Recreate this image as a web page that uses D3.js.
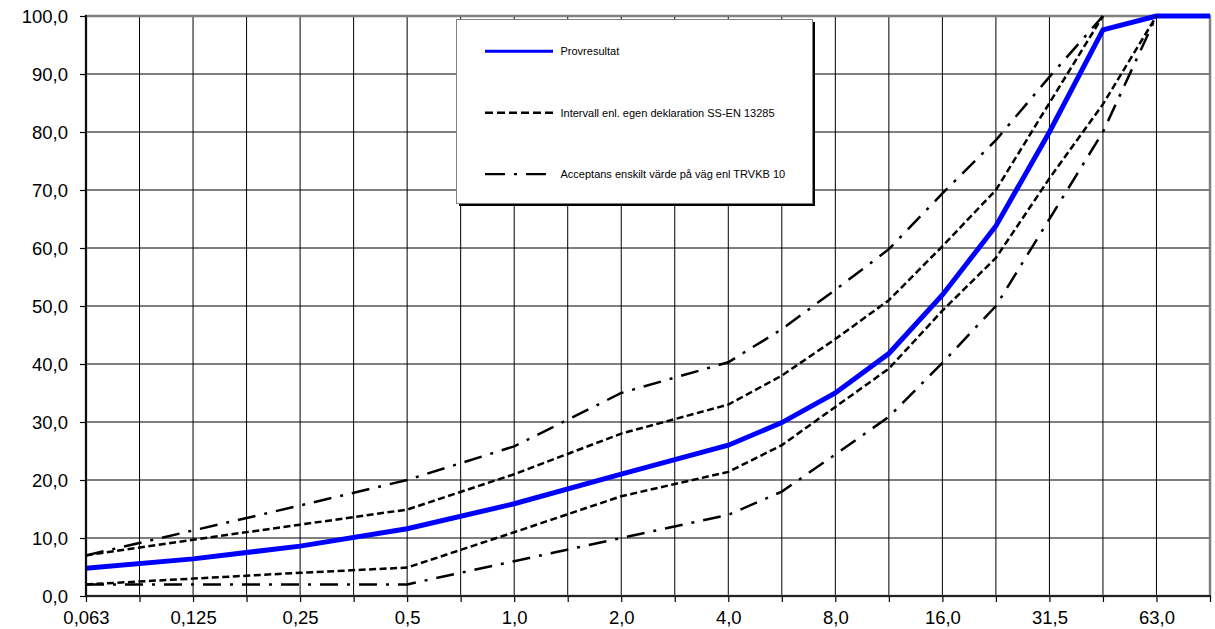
<!DOCTYPE html>
<html>
<head>
<meta charset="utf-8">
<script src="https://cdn.jsdelivr.net/npm/d3@7"></script>
<style>
  html, body { margin: 0; padding: 0; background: #fff; }
  svg { display: block; }
  text { font-family: "Liberation Sans", Arial, sans-serif; }
</style>
</head>
<body>
<div id="chart"></div>
<script>
// sieve sizes (mm) on the x axis, equally spaced
const sieves = ['0,063', '0,09', '0,125', '0,18', '0,25', '0,355', '0,5', '0,71', '1,0', '1,4', '2,0',
  '2,8', '4,0', '5,6', '8,0', '11,2', '16,0', '22,4', '31,5', '45,0', '63,0', '90,0'];
const tickLabels = ['0,063', '', '0,125', '', '0,25', '', '0,5', '', '1,0', '', '2,0',
  '', '4,0', '', '8,0', '', '16,0', '', '31,5', '', '63,0', ''];
const yTicks = [0, 10, 20, 30, 40, 50, 60, 70, 80, 90, 100];

// passing % per sieve, null = no value at that sieve
const provresultat = [4.8, null, 6.4, null, 8.6, null, 11.6, null, 15.9, null, 21.0,
  null, 26.0, 29.9, 35.0, 41.8, 51.9, 63.8, 80.0, 97.6, 100, 100];
const intervallOver = [7.0, null, 9.7, null, 12.3, null, 14.9, null, 21.0, null, 28.0,
  null, 33.0, 38.0, 44.3, 51.0, 60.3, 70.0, 85.0, 100, null, null];
const intervallUnder = [2.0, null, 3.0, null, 4.0, null, 4.9, null, 11.0, null, 17.2,
  null, 21.4, 26.0, 32.6, 39.2, 49.2, 58.3, 72.0, 84.8, 100, null];
const acceptansOver = [7.0, null, 11.3, null, 15.6, null, 20.0, null, 25.8, null, 35.0,
  null, 40.3, 46.0, 52.8, 59.8, 69.4, 78.6, 89.5, 100, null, null];
const acceptansUnder = [2.0, null, 2.0, null, 2.0, null, 2.0, null, 6.0, null, 10.0,
  null, 14.0, 18.0, 24.4, 30.9, 40.2, 50.0, 65.0, 80.0, 100, null];

const legendNames = ['Provresultat', 'Intervall enl. egen deklaration SS-EN 13285', 'Acceptans enskilt värde på väg enl TRVKB 10'];

const width = 1215;
const height = 629;
const plotLeft = 86, plotRight = 1210, plotTop = 16, plotBottom = 596;

const styles = {
  blue: { stroke: '#0000ff', width: 5, dash: null },
  dash: { stroke: '#000', width: 2.5, dash: '7,3.5' },
  dashdot: { stroke: '#000', width: 2.5, dash: '18,9,3,9' }
};

const series = [
  { values: provresultat, style: styles.blue },
  { values: intervallOver, style: styles.dash },
  { values: intervallUnder, style: styles.dash },
  { values: acceptansOver, style: styles.dashdot },
  { values: acceptansUnder, style: styles.dashdot }
];

const x = d3.scalePoint().domain(sieves).range([plotLeft, plotRight]);
const y = d3.scaleLinear().domain([0, 100]).range([plotBottom, plotTop]);

const svg = d3.create('svg')
  .attr('width', width)
  .attr('height', height);

// gridlines
svg.append('g')
  .selectAll('line')
  .data(yTicks.slice(1, -1))
  .join('line')
  .attr('x1', plotLeft).attr('x2', plotRight)
  .attr('y1', d => y(d)).attr('y2', d => y(d))
  .attr('stroke', '#000').attr('stroke-width', 1);

svg.append('g')
  .selectAll('line')
  .data(sieves.slice(1, -1))
  .join('line')
  .attr('x1', d => x(d)).attr('x2', d => x(d))
  .attr('y1', plotTop).attr('y2', plotBottom)
  .attr('stroke', '#000').attr('stroke-width', 1);

// plot area border
svg.append('rect')
  .attr('x', plotLeft).attr('y', plotTop)
  .attr('width', plotRight - plotLeft).attr('height', plotBottom - plotTop)
  .attr('fill', 'none')
  .attr('stroke', '#808080')
  .attr('stroke-width', 2.5);

// series
const line = d3.line()
  .x(d => x(d.sieve))
  .y(d => y(d.value));

series.forEach(s => {
  const pts = sieves.map((sv, i) => ({ sieve: sv, value: s.values[i] })).filter(d => d.value !== null);
  svg.append('path')
    .attr('d', line(pts))
    .attr('fill', 'none')
    .attr('stroke', s.style.stroke)
    .attr('stroke-width', s.style.width)
    .attr('stroke-linejoin', 'miter')
    .attr('stroke-dasharray', s.style.dash);
});

// axes
const fmt = d => d3.format('.1f')(d).replace('.', ',');

const yAxis = svg.append('g')
  .attr('transform', `translate(${plotLeft},0)`)
  .call(d3.axisLeft(y).tickValues(yTicks).tickFormat(fmt).tickSize(6).tickPadding(12));
yAxis.select('.domain').remove();
yAxis.selectAll('text').attr('dy', '0.36em');

const xAxis = svg.append('g')
  .attr('transform', `translate(0,${plotBottom})`)
  .call(d3.axisBottom(x).tickFormat((d, i) => tickLabels[i]).tickSize(6));
xAxis.select('.domain').remove();
xAxis.selectAll('text').attr('y', 27.5).attr('dy', 0);

svg.selectAll('.tick line').attr('stroke', '#000').attr('stroke-width', 1.2);
svg.selectAll('.tick text')
  .attr('fill', '#000')
  .style('font-size', '18.5px')
  .style('font-family', '"Liberation Sans", Arial, sans-serif');

svg.append('line')
  .attr('x1', plotLeft).attr('x2', plotLeft).attr('y1', plotTop - 1).attr('y2', plotBottom)
  .attr('stroke', '#000').attr('stroke-width', 1.8);
svg.append('line')
  .attr('x1', plotLeft).attr('x2', plotRight + 1).attr('y1', plotBottom).attr('y2', plotBottom)
  .attr('stroke', '#222').attr('stroke-width', 1.8);

// legend
const legend = svg.append('g');
legend.append('rect')
  .attr('x', 459).attr('y', 22).attr('width', 356).attr('height', 184)
  .attr('fill', '#000');
legend.append('rect')
  .attr('x', 456.5).attr('y', 19.5).attr('width', 356).attr('height', 184)
  .attr('fill', '#fff').attr('stroke', '#808080').attr('stroke-width', 1);

const legendStyles = [styles.blue, styles.dash, styles.dashdot];
const rows = legend.selectAll('g.row')
  .data(legendNames)
  .join('g')
  .attr('class', 'row')
  .attr('transform', (d, i) => `translate(0,${51.3 + i * 61.4})`);

rows.append('line')
  .attr('x1', 485).attr('x2', (d, i) => i === 2 ? 546 : 553)
  .attr('y1', 0).attr('y2', 0)
  .attr('stroke', (d, i) => legendStyles[i].stroke)
  .attr('stroke-width', (d, i) => i === 0 ? 3 : 2.4)
  .attr('stroke-dasharray', (d, i) => i === 1 ? '8,4' : i === 2 ? '20,9,3,9' : null);

rows.append('text')
  .attr('x', 560.5).attr('y', 3.8)
  .style('font-size', '11px')
  .attr('fill', '#000')
  .text(d => d);

document.getElementById('chart').appendChild(svg.node());
</script>
</body>
</html>
